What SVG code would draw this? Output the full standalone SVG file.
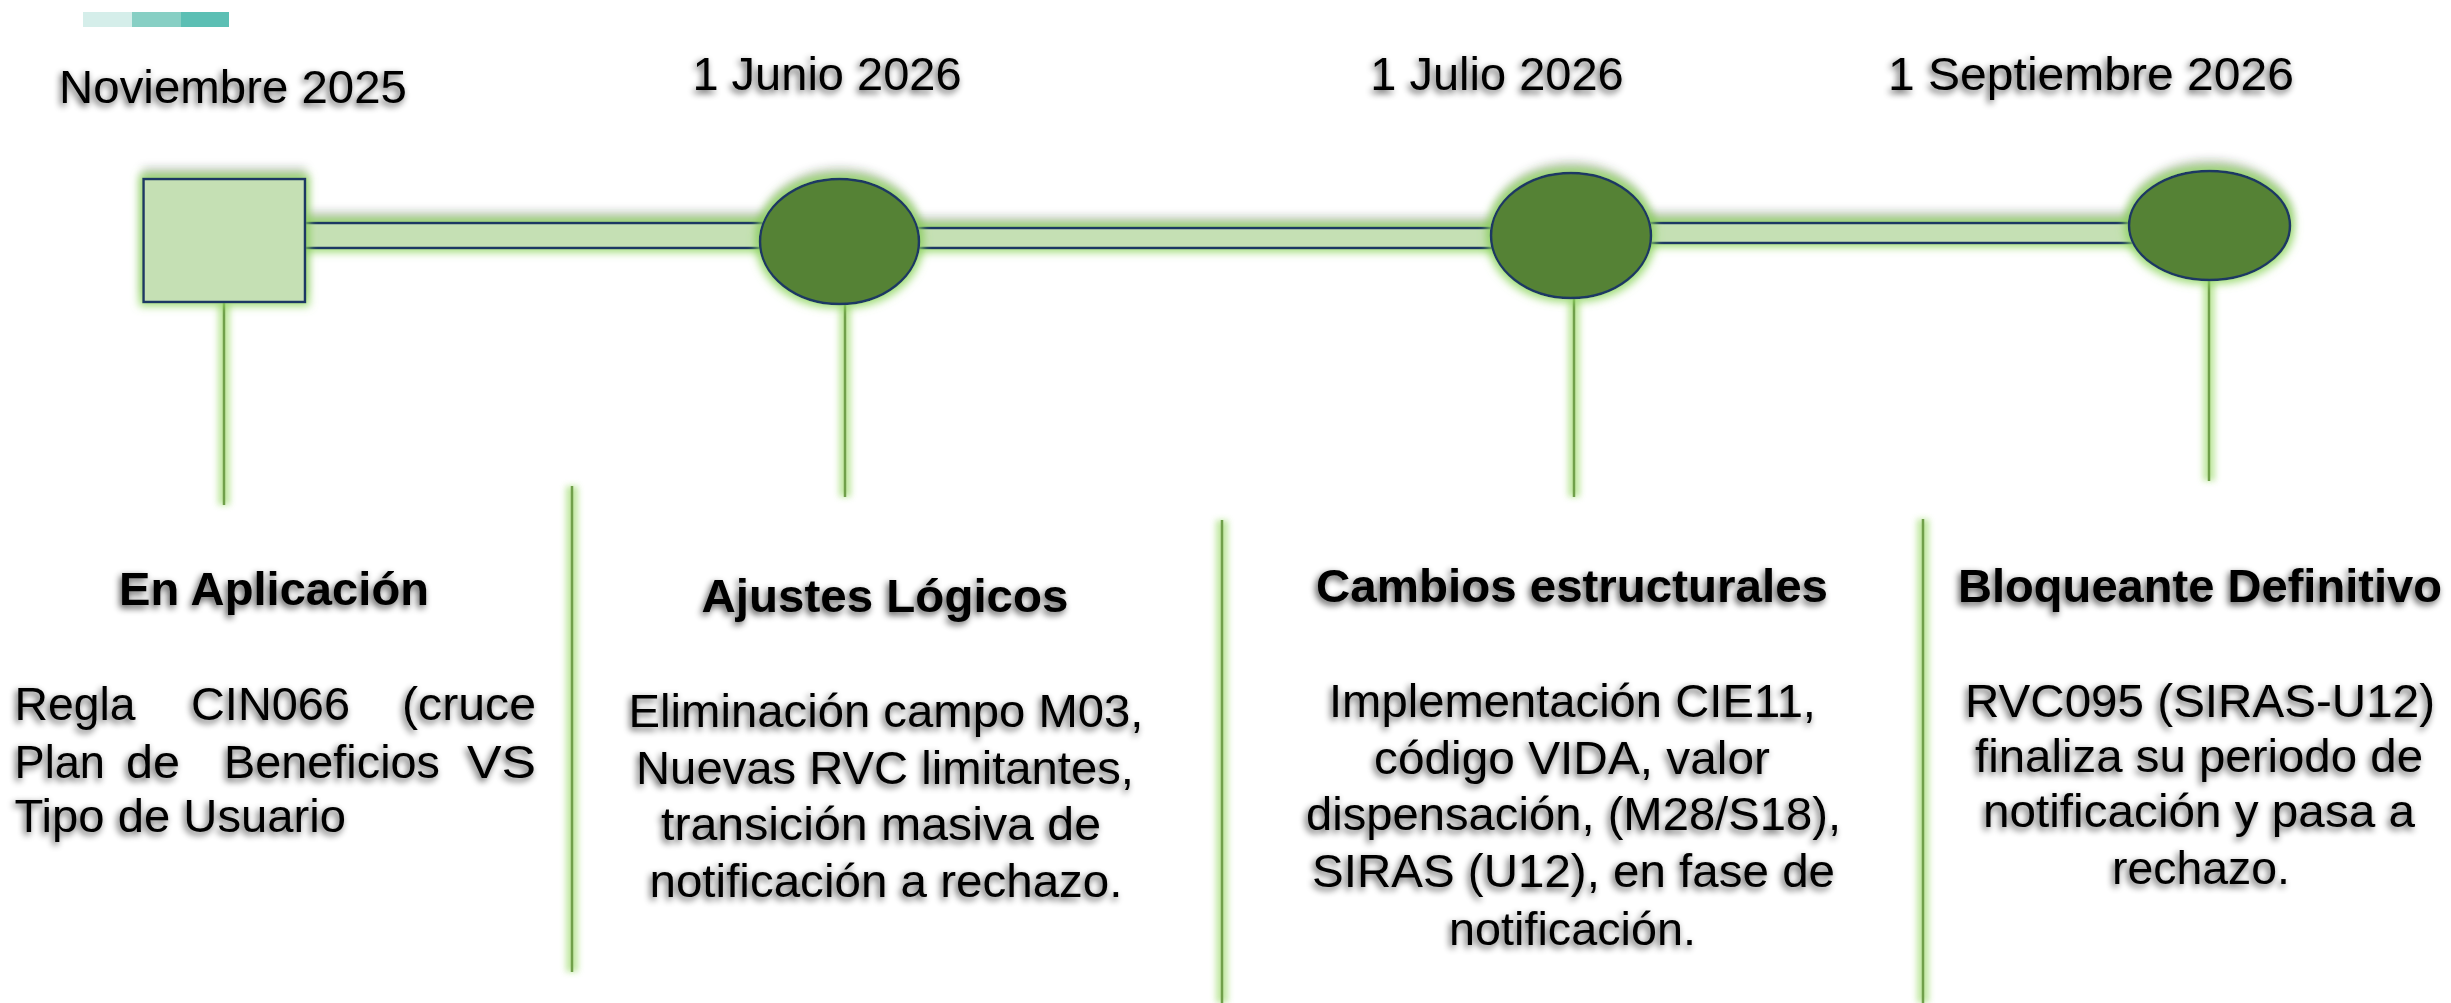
<svg xmlns="http://www.w3.org/2000/svg" width="2451" height="1003" viewBox="0 0 2451 1003">
<defs>
<style>
.date{font-family:"Liberation Sans",Arial,sans-serif;font-size:47px;fill:#000;text-anchor:middle}
.head{font-family:"Liberation Sans",Arial,sans-serif;font-size:47px;font-weight:bold;fill:#000;text-anchor:middle}
.body{font-family:"Liberation Sans",Arial,sans-serif;font-size:47px;fill:#000;text-anchor:middle}
.bodyl{font-family:"Liberation Sans",Arial,sans-serif;font-size:47px;fill:#000}
.bar{fill:#c5e0b4;stroke:#1f3864;stroke-width:2.5}
.ell{fill:#548235;stroke:#1f3864;stroke-width:2.5}
.sq{fill:#c5e0b4;stroke:#1f3864;stroke-width:2.5}
.vline{stroke:#70a04a;stroke-width:2.5;fill:none}
.glowline{stroke:#b9e596;stroke-width:12;fill:none;opacity:0.9}
</style>
<filter id="shapeFx" filterUnits="userSpaceOnUse" x="0" y="0" width="2451" height="1003">
<feMorphology in="SourceAlpha" operator="dilate" radius="3" result="d"/>
<feGaussianBlur in="d" stdDeviation="4" result="b"/>
<feFlood flood-color="#8fd660" flood-opacity="0.85"/>
<feComposite in2="b" operator="in" result="glow"/>
<feGaussianBlur in="SourceAlpha" stdDeviation="5" result="sb"/>
<feOffset in="sb" dy="-9" result="so"/>
<feFlood flood-color="#000" flood-opacity="0.35"/>
<feComposite in2="so" operator="in" result="shadow"/>
<feMerge><feMergeNode in="shadow"/><feMergeNode in="glow"/><feMergeNode in="SourceGraphic"/></feMerge>
</filter>
<filter id="blurGlow" filterUnits="userSpaceOnUse" x="0" y="0" width="2451" height="1003">
<feGaussianBlur stdDeviation="3"/>
</filter>
<filter id="ts" filterUnits="userSpaceOnUse" x="0" y="0" width="2451" height="1003">
<feGaussianBlur in="SourceAlpha" stdDeviation="3.5" result="b"/>
<feOffset in="b" dx="-2" dy="3" result="o"/>
<feComponentTransfer in="o" result="s"><feFuncA type="linear" slope="0.7"/></feComponentTransfer>
<feMerge><feMergeNode in="s"/><feMergeNode in="SourceGraphic"/></feMerge>
</filter>
</defs>
<rect width="2451" height="1003" fill="#ffffff"/>

<g id="accent">
<rect x="83" y="12" width="49" height="15" fill="#d5eeea"/>
<rect x="132" y="12" width="49" height="15" fill="#87cfc4"/>
<rect x="181" y="12" width="48" height="15" fill="#5cbfb4"/>
</g>

<g id="separators">
<line class="glowline" x1="572" y1="486" x2="572" y2="972" filter="url(#blurGlow)"/>
<line class="vline" x1="572" y1="486" x2="572" y2="972"/>
<line class="glowline" x1="1222" y1="520" x2="1222" y2="1003" filter="url(#blurGlow)"/>
<line class="vline" x1="1222" y1="520" x2="1222" y2="1003"/>
<line class="glowline" x1="1923" y1="519" x2="1923" y2="1003" filter="url(#blurGlow)"/>
<line class="vline" x1="1923" y1="519" x2="1923" y2="1003"/>
</g>

<g id="stems">
<line class="glowline" x1="224" y1="302" x2="224" y2="505" filter="url(#blurGlow)"/>
<line class="vline" x1="224" y1="302" x2="224" y2="505"/>
<line class="glowline" x1="845" y1="304" x2="845" y2="497" filter="url(#blurGlow)"/>
<line class="vline" x1="845" y1="304" x2="845" y2="497"/>
<line class="glowline" x1="1574" y1="298" x2="1574" y2="497" filter="url(#blurGlow)"/>
<line class="vline" x1="1574" y1="298" x2="1574" y2="497"/>
<line class="glowline" x1="2209" y1="280" x2="2209" y2="481" filter="url(#blurGlow)"/>
<line class="vline" x1="2209" y1="280" x2="2209" y2="481"/>
</g>

<g id="connectors" filter="url(#shapeFx)">
<rect class="bar" x="304" y="223" width="462" height="25"/>
<rect class="bar" x="912" y="228" width="584" height="20"/>
<rect class="bar" x="1646" y="223" width="492" height="20" rx="2"/>
</g>

<g id="node-nov2025">
<rect class="sq" x="143.5" y="179" width="161.5" height="123" filter="url(#shapeFx)"/>
<text class="date" x="233" y="103" textLength="348" lengthAdjust="spacingAndGlyphs" filter="url(#ts)">Noviembre 2025</text>
</g>
<g id="node-jun2026">
<ellipse class="ell" cx="839.5" cy="241.5" rx="79.5" ry="62.5" filter="url(#shapeFx)"/>
<text class="date" x="827" y="90" filter="url(#ts)">1 Junio 2026</text>
</g>
<g id="node-jul2026">
<ellipse class="ell" cx="1571" cy="235.5" rx="80" ry="62.5" filter="url(#shapeFx)"/>
<text class="date" x="1497" y="90" filter="url(#ts)">1 Julio 2026</text>
</g>
<g id="node-sep2026">
<ellipse class="ell" cx="2209.5" cy="225.5" rx="80.5" ry="54.5" filter="url(#shapeFx)"/>
<text class="date" x="2091" y="90" textLength="406" lengthAdjust="spacingAndGlyphs" filter="url(#ts)">1 Septiembre 2026</text>
</g>

<g id="text-en-aplicacion" filter="url(#ts)">
<text class="head" x="274" y="605" textLength="310" lengthAdjust="spacingAndGlyphs">En Aplicación</text>
<text class="bodyl" x="14.5" y="720" textLength="121" lengthAdjust="spacingAndGlyphs">Regla</text>
<text class="bodyl" x="191" y="720" textLength="159" lengthAdjust="spacingAndGlyphs">CIN066</text>
<text class="bodyl" x="402" y="720" textLength="134" lengthAdjust="spacingAndGlyphs">(cruce</text>
<text class="bodyl" x="14.5" y="778" textLength="90.5" lengthAdjust="spacingAndGlyphs">Plan</text>
<text class="bodyl" x="126" y="778" textLength="54" lengthAdjust="spacingAndGlyphs">de</text>
<text class="bodyl" x="224" y="778" textLength="216" lengthAdjust="spacingAndGlyphs">Beneficios</text>
<text class="bodyl" x="467" y="778" textLength="69" lengthAdjust="spacingAndGlyphs">VS</text>
<text class="bodyl" x="14.5" y="832" textLength="331.5" lengthAdjust="spacingAndGlyphs">Tipo de Usuario</text>
</g>

<g id="text-ajustes" filter="url(#ts)">
<text class="head" x="885" y="612" textLength="367" lengthAdjust="spacingAndGlyphs">Ajustes Lógicos</text>
<text class="body" x="886" y="727" textLength="515" lengthAdjust="spacingAndGlyphs">Eliminación campo M03,</text>
<text class="body" x="885" y="784" textLength="498" lengthAdjust="spacingAndGlyphs">Nuevas RVC limitantes,</text>
<text class="body" x="881" y="840" textLength="440" lengthAdjust="spacingAndGlyphs">transición masiva de</text>
<text class="body" x="886" y="897" textLength="473" lengthAdjust="spacingAndGlyphs">notificación a rechazo.</text>
</g>

<g id="text-cambios" filter="url(#ts)">
<text class="head" x="1572" y="602" textLength="512" lengthAdjust="spacingAndGlyphs">Cambios estructurales</text>
<text class="body" x="1572.5" y="717" textLength="487" lengthAdjust="spacingAndGlyphs">Implementación CIE11,</text>
<text class="body" x="1572" y="774" textLength="396" lengthAdjust="spacingAndGlyphs">código VIDA, valor</text>
<text class="body" x="1573.5" y="830" textLength="535" lengthAdjust="spacingAndGlyphs">dispensación, (M28/S18),</text>
<text class="body" x="1573.5" y="887" textLength="523" lengthAdjust="spacingAndGlyphs">SIRAS (U12), en fase de</text>
<text class="body" x="1572.5" y="945" textLength="247" lengthAdjust="spacingAndGlyphs">notificación.</text>
</g>

<g id="text-bloqueante" filter="url(#ts)">
<text class="head" x="2200" y="602" textLength="484" lengthAdjust="spacingAndGlyphs">Bloqueante Definitivo</text>
<text class="body" x="2200" y="717" textLength="470" lengthAdjust="spacingAndGlyphs">RVC095 (SIRAS-U12)</text>
<text class="body" x="2199" y="772" textLength="448" lengthAdjust="spacingAndGlyphs">finaliza su periodo de</text>
<text class="body" x="2199" y="827" textLength="432" lengthAdjust="spacingAndGlyphs">notificación y pasa a</text>
<text class="body" x="2201" y="884" textLength="178" lengthAdjust="spacingAndGlyphs">rechazo.</text>
</g>
</svg>
